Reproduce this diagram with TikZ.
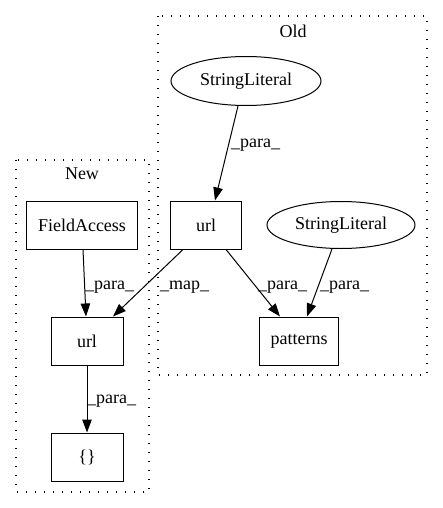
\documentclass[tikz,border=0pt]{standalone}
\usepackage{fontspec}
\setmainfont{Liberation Serif}
\usetikzlibrary{arrows.meta,shapes.geometric}
\begin{document}
\begin{tikzpicture}[x=1pt,y=-1pt,
  every node/.style={font=\fontsize{18}{21}\selectfont},
  box/.style={draw,line width=1pt,rectangle,minimum height=48pt,inner sep=0pt},
  ell/.style={draw,line width=1pt,ellipse,inner sep=0pt},
  cluster/.style={draw,line width=1.3pt,dash pattern=on 1.3pt off 7.7pt},
  edge/.style={line width=1pt,-{Triangle[length=13pt,width=9.5pt]}},
  elab/.style={anchor=base west,inner sep=0pt}]
\useasboundingbox (0,0) rectangle (443,508);
% clusters
\draw[cluster] (158,16) rectangle (427,375);
\draw[cluster] (16,160) rectangle (149,492);
\node (oldlab) at (293,31) {Old};
\node (newlab) at (82,174) {New};
% nodes
\node[ell,minimum width=150pt,minimum height=49pt] (sl1) at (246,81) {StringLiteral};
\node[box,minimum width=71pt] (urlO) at (206,225) {url};
\node[ell,minimum width=148pt,minimum height=47pt] (sl2) at (341,225) {StringLiteral};
\node[box,minimum width=79pt] (pat) at (299,341) {patterns};
\node[box,minimum width=111pt] (fa) at (82,225) {FieldAccess};
\node[box,minimum width=72pt] (urlN) at (87,341) {url};
\node[box,minimum width=72pt] (br) at (87,457) {\{\}};
% edges
\draw[edge] ([xshift=-8pt]sl1.south) -- ([xshift=9pt]urlO.north);
\draw[edge] ([xshift=20pt]urlO.south) -- ([xshift=-19pt]pat.north);
\draw[edge] ([xshift=-9pt]sl2.south) -- ([xshift=8pt]pat.north);
\draw[edge] ([xshift=-23pt]urlO.south) -- ([xshift=26pt]urlN.north);
\draw[edge] ([xshift=1pt]fa.south) -- ([xshift=-1pt]urlN.north);
\draw[edge] (urlN.south) -- (br.north);
% edge labels
\node[elab] (l1) at (231,147) {\_para\_};
\node[elab] (l2) at (85,289) {\_para\_};
\node[elab] (l3) at (160,289) {\_map\_};
\node[elab] (l4) at (258,289) {\_para\_};
\node[elab] (l5) at (320,289) {\_para\_};
\node[elab] (l6) at (87,403) {\_para\_};
\end{tikzpicture}
\end{document}
